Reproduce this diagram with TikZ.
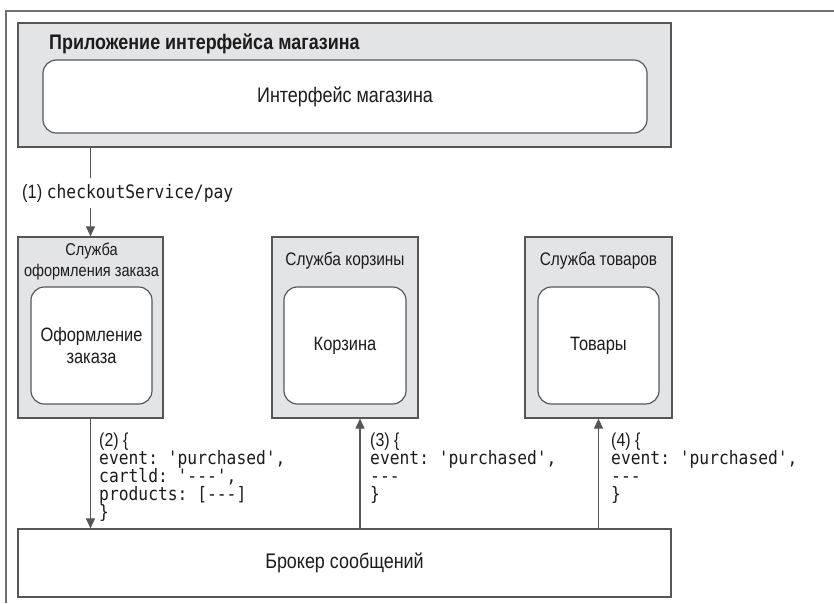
\documentclass[tikz,border=0pt]{standalone}
\usepackage{fontspec}
\setmainfont{Liberation Sans}[FakeStretch=0.85]
\setmonofont{DejaVu Sans Mono}[FakeStretch=0.88]
\usetikzlibrary{arrows.meta,positioning,calc}
\definecolor{panel}{HTML}{E3E4E6}
\definecolor{frame}{HTML}{555658}
\definecolor{ink}{HTML}{1E1B1C}
\definecolor{pageline}{HTML}{707070}
\newcommand{\codefont}{\fontsize{15.8}{15.4}\selectfont\ttfamily}
\newcommand{\svcfont}{\fontsize{15.5}{18}\selectfont}
\newcommand{\midfont}{\fontsize{16.5}{19}\selectfont}
\newcommand{\bigfont}{\fontsize{18}{21}\selectfont}
\tikzset{
  panelbox/.style={draw=frame, fill=panel, line width=1pt, inner sep=0pt},
  innerbox/.style={draw=frame, fill=white, line width=1pt, rounded corners=0.4cm,
                   align=center, text=ink, font=\midfont, inner sep=0pt},
  headtxt/.style={text=ink, font=\svcfont, align=center, inner sep=0pt},
  codetxt/.style={text=ink, font=\codefont, align=left, anchor=north west, inner sep=0pt},
  ar/.style={-{Triangle[length=0.3cm, width=0.27cm]}, line width=0.9pt, draw=frame},
  ln/.style={line width=0.9pt, draw=frame}
}

\begin{document}
\begin{tikzpicture}[x=1cm,y=1cm]
  \useasboundingbox (0,0) rectangle (25.02,-18.09);
  \draw[pageline, line width=1pt] (0.18,-18.09) |- (25.02,-0.33);

  % front-end application
  \node[panelbox, minimum width=19.59cm, minimum height=3.72cm] (app) at (10.335,-2.55) {};
  \node[text=ink, font=\bigfont\bfseries, anchor=west, inner sep=0pt] (apptitle) at (1.47,-1.32)
    {Приложение интерфейса магазина};
  \node[innerbox, font=\bigfont, minimum width=18.12cm, minimum height=2.19cm] (front) at (10.35,-2.895)
    {Интерфейс магазина};

  % services
  \node[panelbox, minimum width=4.35cm, minimum height=5.43cm] (checkout) at (2.715,-9.825) {};
  \node[panelbox, minimum width=4.38cm, minimum height=5.43cm] (cart) at (10.35,-9.825) {};
  \node[panelbox, minimum width=4.41cm, minimum height=5.43cm] (products) at (17.955,-9.825) {};
  \node[headtxt, font=\fontsize{14.6}{18}\selectfont] (checkouthead) at (2.745,-7.845) {Служба\\оформления заказа};
  \node[headtxt] (carthead) at (10.35,-7.83) {Служба корзины};
  \node[headtxt] (productshead) at (17.955,-7.83) {Служба товаров};
  \node[innerbox, minimum width=3.63cm, minimum height=3.51cm] (checkoutin) at (2.745,-10.365)
    {Оформление\\заказа};
  \node[innerbox, minimum width=3.66cm, minimum height=3.51cm] (cartin) at (10.35,-10.365) {Корзина};
  \node[innerbox, minimum width=3.63cm, minimum height=3.51cm] (productsin) at (17.955,-10.365) {Товары};

  % broker
  \node[draw=frame, fill=white, line width=1pt, minimum width=19.59cm, minimum height=2.04cm,
        text=ink, font=\bigfont] (broker) at (10.335,-16.89) {Брокер сообщений};

  % calls and events
  \node[text=ink, font=\midfont, fill=white, anchor=west, minimum height=0.87cm, inner sep=0pt] (pay) at (0.66,-5.79)
    {(1) {\codefont checkoutService/pay}};
  \draw[ln] (app.south -| checkout) -- (pay.north -| checkout);
  \draw[ar] (pay.south -| checkout) -- (checkout.north);

  \draw[ar] (checkout.south) -- (broker.north -| checkout);
  \node[codetxt] (ev2) at (2.97,-12.99)
    {{\rmfamily\fontsize{16}{15.4}\selectfont (2) \{}\\event: 'purchased',\\cartld: '---',\\products: [---]\\\}};

  \coordinate (cartup) at ($(cart.south)+(0.45,0)$);
  \draw[ar] (broker.north -| cartup) -- (cartup);
  \node[codetxt] (ev3) at (11.1,-12.99)
    {{\rmfamily\fontsize{16}{15.4}\selectfont (3) \{}\\event: 'purchased',\\---\\\}};

  \draw[ar] (broker.north -| products) -- (products.south);
  \node[codetxt] (ev4) at (18.33,-12.99)
    {{\rmfamily\fontsize{16}{15.4}\selectfont (4) \{}\\event: 'purchased',\\---\\\}};
\end{tikzpicture}
\end{document}
